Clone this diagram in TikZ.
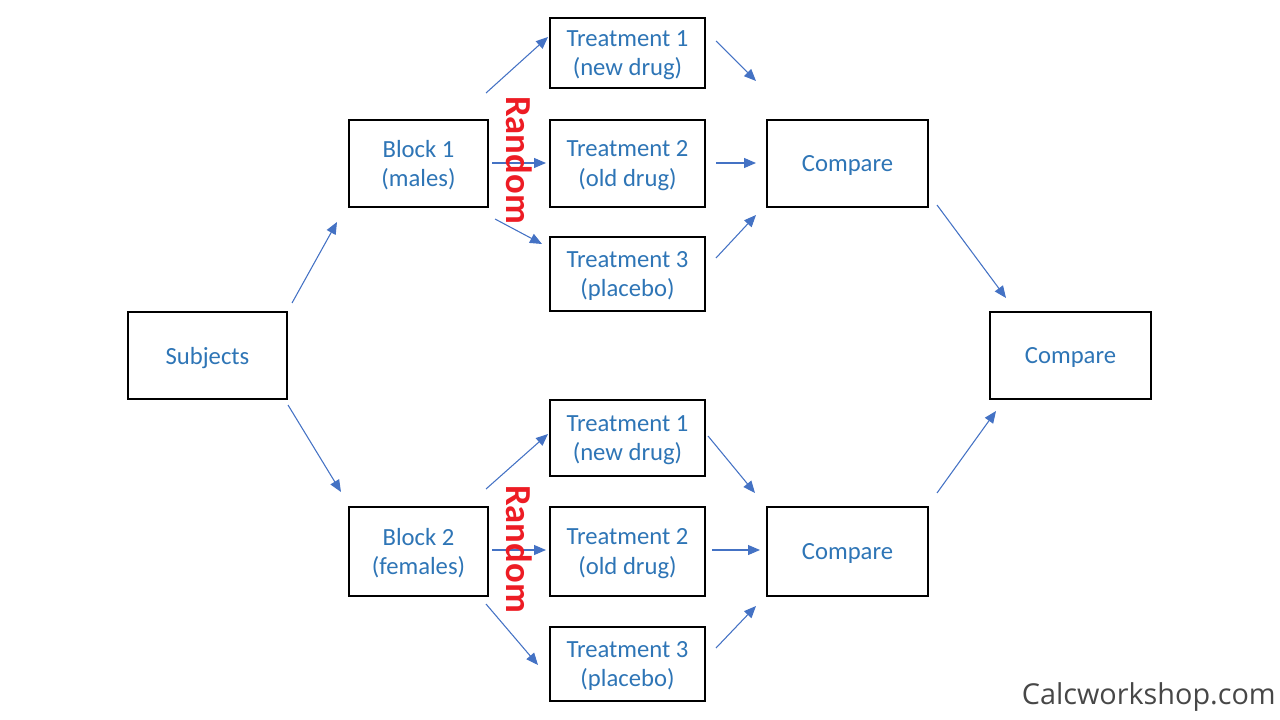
\documentclass[tikz,border=0pt]{standalone}
\usepackage{fontspec}
\setmainfont{Carlito}
\newfontfamily\wmfont{Open Sans}
\usetikzlibrary{arrows.meta}
\definecolor{txtblue}{RGB}{46,117,182}
\definecolor{arrblue}{RGB}{68,114,196}
\definecolor{rndred}{RGB}{237,28,36}
\begin{document}
\begin{tikzpicture}[x=0.75pt,y=-0.75pt,
  box/.style={draw=black,line width=0.9pt,fill=white,text=txtblue,align=center,
    font=\fontsize{18.5}{22}\selectfont,inner sep=0pt,text depth=0pt},
  conn/.style={draw=arrblue,line width=0.8pt,-{Triangle[length=9pt,width=7.5pt]}},
  rnd/.style={text=rndred,font=\fontsize{27.5}{30}\selectfont\bfseries,rotate=-90,inner sep=0pt}]
\useasboundingbox (0,0) rectangle (1280,720);
% boxes
\node[box,minimum width=159*0.75pt,minimum height=87*0.75pt] (subj) at (207.5,355.5) {Subjects};
\node[box,minimum width=139*0.75pt,minimum height=87*0.75pt] (b1) at (418.5,163.5) {Block 1\\(males)};
\node[box,minimum width=139*0.75pt,minimum height=89*0.75pt] (b2) at (418.5,551.5) {Block 2\\(females)};
\node[box,minimum width=155*0.75pt,minimum height=70*0.75pt] (t1a) at (627.5,53) {Treatment 1\\(new drug)};
\node[box,minimum width=155*0.75pt,minimum height=87*0.75pt] (t2a) at (627.5,163.5) {Treatment 2\\(old drug)};
\node[box,minimum width=155*0.75pt,minimum height=74*0.75pt] (t3a) at (627.5,274) {Treatment 3\\(placebo)};
\node[box,minimum width=155*0.75pt,minimum height=76*0.75pt] (t1b) at (627.5,438) {Treatment 1\\(new drug)};
\node[box,minimum width=155*0.75pt,minimum height=89*0.75pt] (t2b) at (627.5,551.5) {Treatment 2\\(old drug)};
\node[box,minimum width=155*0.75pt,minimum height=74*0.75pt] (t3b) at (627.5,664) {Treatment 3\\(placebo)};
\node[box,minimum width=161*0.75pt,minimum height=87*0.75pt] (ca) at (847.5,163.5) {Compare};
\node[box,minimum width=161*0.75pt,minimum height=89*0.75pt] (cb) at (847.5,551.5) {Compare};
\node[box,minimum width=161*0.75pt,minimum height=87*0.75pt] (cf) at (1070.5,355.5) {Compare};
% connector end points
\coordinate (s1s) at (292,303); \coordinate (s1e) at (337,222);
\coordinate (s2s) at (288,405); \coordinate (s2e) at (341,492);
\coordinate (a1s) at (486,93);  \coordinate (a1e) at (548,37);
\coordinate (a2s) at (492,163); \coordinate (a2e) at (546,163);
\coordinate (a3s) at (495,219); \coordinate (a3e) at (542,244);
\coordinate (c1s) at (716,41);  \coordinate (c1e) at (756,81);
\coordinate (c2s) at (716,163); \coordinate (c2e) at (756,163);
\coordinate (c3s) at (716,258); \coordinate (c3e) at (756,215);
\coordinate (fas) at (937,205); \coordinate (fae) at (1006,298);
\coordinate (b1s) at (486,489); \coordinate (b1e) at (548,434);
\coordinate (b2s) at (492,550); \coordinate (b2e) at (546,550);
\coordinate (b3s) at (486,604); \coordinate (b3e) at (538,665);
\coordinate (d1s) at (708,436); \coordinate (d1e) at (755,493);
\coordinate (d2s) at (712,550); \coordinate (d2e) at (760,550);
\coordinate (d3s) at (716,648); \coordinate (d3e) at (756,606);
\coordinate (fbs) at (937,493); \coordinate (fbe) at (996,411);
% connectors
\foreach \p in {s1,s2,a1,a2,a3,c1,c2,c3,fa,b1,b2,b3,d1,d2,d3,fb}
  \draw[conn] (\p s) -- (\p e);
% Random labels
\node[rnd] (rnda) at (519,160) {Random};
\node[rnd] (rndb) at (519,549) {Random};
% watermark
\node[anchor=east,inner sep=0pt,text=black!72,font=\wmfont\fontsize{21.6}{24}\selectfont] (wm) at (1276,697) {Calcworkshop.com};
\end{tikzpicture}
\end{document}
